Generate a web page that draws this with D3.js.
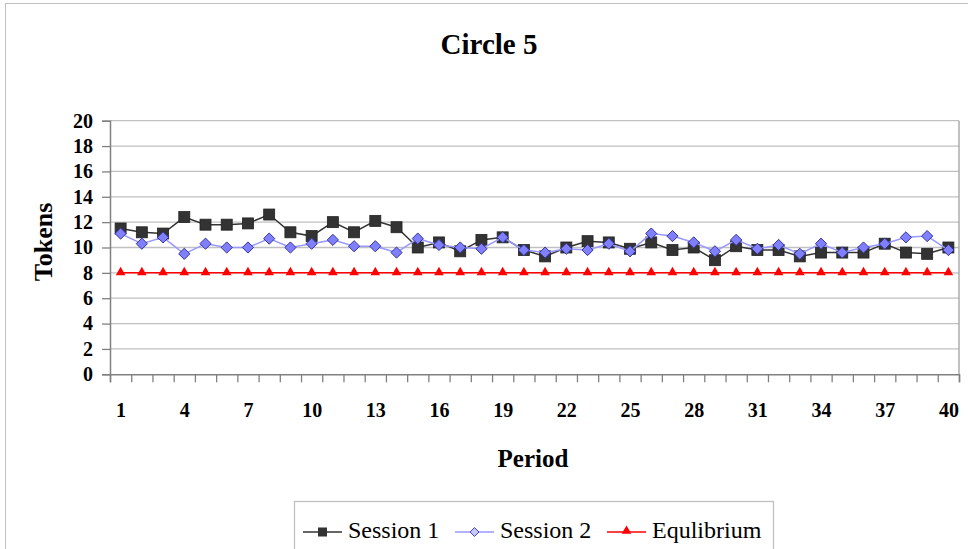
<!DOCTYPE html>
<html>
<head>
<meta charset="utf-8">
<script src="https://cdn.jsdelivr.net/npm/d3@7"></script>
<style>
  body { margin: 0; background: #fff; }
  svg text { font-family: "Liberation Serif", "DejaVu Serif", serif !important; }
</style>
</head>
<body>
<svg id="chart" width="968" height="549"></svg>
<script>
// data
const periods = d3.range(1, 41);
const session1 = [11.5, 11.2, 11.1, 12.4, 11.8, 11.8, 11.9, 12.6, 11.2, 10.9,
                  12.0, 11.2, 12.1, 11.6, 10.0, 10.4, 9.7, 10.6, 10.8, 9.8,
                  9.3, 10.0, 10.5, 10.4, 9.9, 10.4, 9.8, 10.0, 9.0, 10.1,
                  9.8, 9.8, 9.3, 9.6, 9.6, 9.6, 10.3, 9.6, 9.5, 10.0];
const session2 = [11.1, 10.3, 10.8, 9.5, 10.3, 10.0, 10.0, 10.7, 10.0, 10.3,
                  10.6, 10.1, 10.1, 9.6, 10.7, 10.2, 10.0, 9.9, 10.8, 9.8,
                  9.6, 9.9, 9.8, 10.3, 9.7, 11.1, 10.9, 10.4, 9.7, 10.6,
                  9.9, 10.2, 9.5, 10.3, 9.6, 10.0, 10.3, 10.8, 10.9, 9.8];
const equilibrium = periods.map(() => 8);
const yTicks = d3.range(0, 21, 2);
const xLabels = [1, 4, 7, 10, 13, 16, 19, 22, 25, 28, 31, 34, 37, 40];

const svg = d3.select("#chart");
const plotLeft = 110, plotRight = 959, plotTop = 120.7, plotBottom = 374.3;
const serif = "Liberation Serif, DejaVu Serif, serif";

// outer chart border (right/bottom run off the page)
svg.append("rect")
    .attr("x", 5.5).attr("y", 3.5)
    .attr("width", 1000).attr("height", 1000)
    .attr("fill", "none").attr("stroke", "#c0c0c0");

let x = d3.scaleLinear().domain([0.5, 40.5]).range([plotLeft, plotRight]);
let y = d3.scaleLinear().domain([0, 20]).range([plotBottom, plotTop]);

// grid lines
svg.append("g").selectAll("line")
    .data(yTicks.filter(d => d > 0))
    .join("line")
    .attr("x1", plotLeft).attr("x2", plotRight)
    .attr("y1", d => y(d)).attr("y2", d => y(d))
    .attr("stroke", "#c0c0c0").attr("stroke-width", 1.3);

// right border of plot area
svg.append("line")
    .attr("x1", plotRight).attr("x2", plotRight)
    .attr("y1", plotTop).attr("y2", plotBottom)
    .attr("stroke", "#a0a0a0").attr("stroke-width", 1.3);

// y axis
let yAxis = svg.append("g")
    .attr("transform", "translate(" + plotLeft + ",0)")
    .call(d3.axisLeft(y).tickValues(yTicks).tickSizeOuter(0).tickSize(8).tickPadding(9));
yAxis.attr("font-family", serif);
yAxis.select(".domain").attr("stroke", "#808080").attr("stroke-width", 1.5);
yAxis.selectAll(".tick line").attr("stroke", "#808080").attr("stroke-width", 1.3);
yAxis.selectAll("text")
    .attr("font-size", 20).attr("font-weight", "bold").attr("fill", "#000");

// x axis: ticks at category boundaries
let xAxis = svg.append("g")
    .attr("transform", "translate(0," + plotBottom + ")")
    .call(d3.axisBottom(x).tickValues(d3.range(0.5, 41, 1)).tickSizeOuter(0).tickSize(8).tickFormat(""));
xAxis.select(".domain").attr("stroke", "#808080").attr("stroke-width", 1.5);
xAxis.selectAll(".tick line").attr("stroke", "#808080").attr("stroke-width", 1.3);

// x labels at category centres
let xLab = svg.append("g")
    .attr("transform", "translate(0," + plotBottom + ")")
    .call(d3.axisBottom(x).tickValues(xLabels).tickSize(0).tickPadding(29));
xLab.attr("font-family", serif);
xLab.select(".domain").remove();
xLab.selectAll("text")
    .attr("font-size", 20).attr("font-weight", "bold").attr("fill", "#000");

// series lines
let line = d3.line().x((d, i) => x(periods[i])).y(d => y(d));

svg.append("path").datum(equilibrium)
    .attr("d", line).attr("fill", "none")
    .attr("stroke", "#ff0000").attr("stroke-width", 1.5);

svg.append("path").datum(session1)
    .attr("d", line).attr("fill", "none")
    .attr("stroke", "#333333").attr("stroke-width", 1.5);

svg.append("g").selectAll("rect")
    .data(session1)
    .join("rect")
    .attr("x", (d, i) => x(periods[i]) - 5.5)
    .attr("y", d => y(d) - 5.5)
    .attr("width", 11).attr("height", 11)
    .attr("fill", "#333333").attr("stroke", "#222").attr("stroke-width", 0.8);

svg.append("path").datum(session2)
    .attr("d", line).attr("fill", "none")
    .attr("stroke", "#9999ff").attr("stroke-width", 1.5);

let diamond = d3.symbol().type(d3.symbolDiamond2).size(80);
svg.append("g").selectAll("path")
    .data(session2)
    .join("path")
    .attr("d", diamond)
    .attr("transform", (d, i) => "translate(" + x(periods[i]) + "," + y(d) + ")")
    .attr("fill", "#8080ff").attr("stroke", "#333399").attr("stroke-width", 1);

let tri = d3.symbol().type(d3.symbolTriangle).size(40);
svg.append("g").selectAll("path")
    .data(equilibrium)
    .join("path")
    .attr("d", tri)
    .attr("transform", (d, i) => "translate(" + x(periods[i]) + "," + (y(d) - 0.5) + ")")
    .attr("fill", "#ff0000");

// title and axis titles
svg.append("text")
    .attr("x", 489).attr("y", 54)
    .attr("text-anchor", "middle")
    .attr("font-family", serif)
    .attr("font-size", 29).attr("font-weight", "bold")
    .text("Circle 5");

svg.append("text")
    .attr("transform", "translate(52,242) rotate(-90)")
    .attr("text-anchor", "middle")
    .attr("font-family", serif)
    .attr("font-size", 26).attr("font-weight", "bold")
    .text("Tokens");

svg.append("text")
    .attr("x", 533).attr("y", 467)
    .attr("text-anchor", "middle")
    .attr("font-family", serif)
    .attr("font-size", 25).attr("font-weight", "bold")
    .text("Period");

// legend
const legendNames = ["Session 1", "Session 2", "Equlibrium"];
const legendX = [303, 455, 607];
let legend = svg.append("g");
legend.append("rect")
    .attr("x", 294.5).attr("y", 501.5)
    .attr("width", 479).attr("height", 60)
    .attr("fill", "#fff").attr("stroke", "#c0c0c0").attr("stroke-width", 1.3);

let items = legend.selectAll("g.item")
    .data(legendNames)
    .join("g")
    .attr("class", "item")
    .attr("transform", (d, i) => "translate(" + legendX[i] + ",532)");

items.append("line")
    .attr("x1", 0).attr("x2", 39)
    .attr("stroke", (d, i) => ["#333333", "#9999ff", "#ff0000"][i])
    .attr("stroke-width", 1.5);

items.filter((d, i) => i === 0).append("rect")
    .attr("x", 15).attr("y", -4.5)
    .attr("width", 9).attr("height", 9)
    .attr("fill", "#333333");
items.filter((d, i) => i === 1).append("path")
    .attr("d", d3.symbol().type(d3.symbolDiamond2).size(50))
    .attr("transform", "translate(19.5,0)")
    .attr("fill", "#c8c8ff").attr("stroke", "#4040b0").attr("stroke-width", 1);
items.filter((d, i) => i === 2).append("path")
    .attr("d", d3.symbol().type(d3.symbolTriangle).size(40))
    .attr("transform", "translate(19.5,-1)")
    .attr("fill", "#ff0000");

items.append("text")
    .attr("x", 45).attr("y", 6)
    .attr("font-family", serif)
    .attr("font-size", 24)
    .text(d => d);
</script>
</body>
</html>
